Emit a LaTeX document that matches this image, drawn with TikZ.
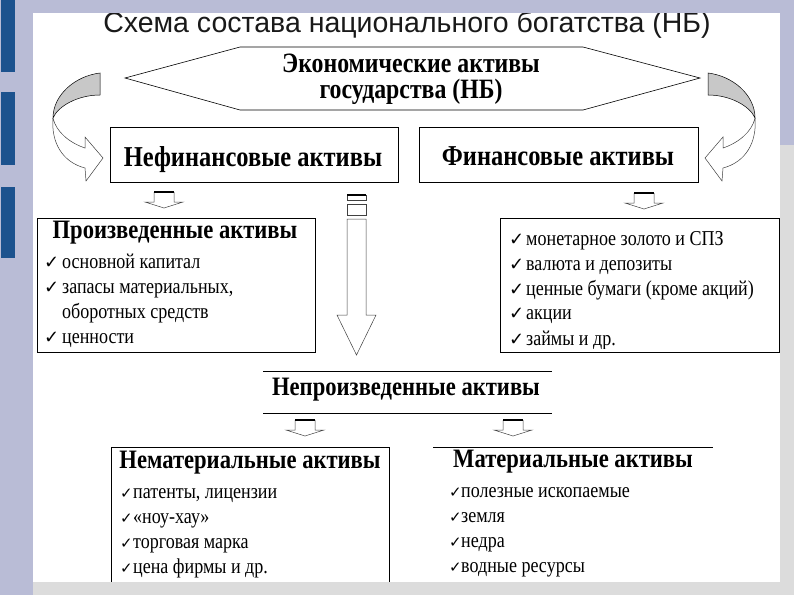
\documentclass[tikz,border=0pt]{standalone}
\usepackage{fontspec}
\setmainfont{Liberation Serif}[FakeStretch=0.85]
\newfontfamily\titlefont{Liberation Sans}
\newfontfamily\symfont{DejaVu Sans}
\usetikzlibrary{arrows.meta, positioning}
\definecolor{SlideBG}{RGB}{185,188,214}
\definecolor{SlideBar}{RGB}{28,82,142}
\definecolor{SlideGr}{RGB}{220,220,220}
\definecolor{ArrGr}{RGB}{200,200,200}
\newcommand{\tickmark}[2][18]{\makebox[#2][l]{\symfont\fontsize{#1}{#1}\selectfont ✓}}
\tikzset{
  ttl/.style={font=\titlefont\fontsize{28.5}{30}\selectfont, text=black!90, inner sep=0pt, anchor=base},
  hd/.style={font=\fontsize{#1}{23}\selectfont\bfseries, inner sep=0pt, anchor=base},
  hd/.default=28.8,
  itm/.style={font=\fontsize{21.2}{24}\selectfont, inner sep=0pt, anchor=base west},
  frame/.style={draw=black, line width=0.9pt},
  thinline/.style={draw=black!75, line width=0.5pt},
  blockdown/.pic={
    \draw[thinline] (-10,0) -- (-10,-10) -- (-19,-10) -- (0,-16) -- (19,-10) -- (10,-10) -- (10,0);
    \draw[line width=1.5pt] (-10,0) -- (10,0);
  },
  bendarrow/.pic={
    \filldraw[fill=ArrGr, draw=black, line width=0.5pt]
      (100,-73) .. controls (75,-76) and (53,-95) .. (53,-118)
      .. controls (58,-106) and (78,-95) .. (100,-95) -- cycle;
    \filldraw[fill=white, thinline]
      (53,-118) .. controls (56,-132) and (70,-143) .. (85,-148)
      -- (85,-137) -- (103,-158) -- (86,-181) -- (85,-168)
      .. controls (62,-162) and (51,-142) .. (53,-118) -- cycle;
  }
}
\begin{document}
\begin{tikzpicture}[x=1pt, y=1pt]
\useasboundingbox (0,0) rectangle (794,-595);
\fill[white] (0,0) rectangle (794,-595);

% Title
\node[ttl] (title) at (407,-32) {Схема состава национального богатства (НБ)};

% Top hexagon
\filldraw[fill=white, draw=black, line width=0.6pt]
  (125,-78) -- (240,-47) -- (583,-47) -- (700,-78) -- (583,-110) -- (240,-110) -- cycle;
\node[hd, font=\fontsize{28}{25.5}\selectfont\bfseries, align=center] (econ) at (411,-98)
  {Экономические активы\\государства (НБ)};

% Curved arrows on both sides
\pic at (0,0) {bendarrow};
\pic[xscale=-1] at (808,0) {bendarrow};

% Second row
\draw[frame] (110,-127) rectangle (398,-182);
\node[hd] (nonfin) at (253,-166) {Нефинансовые активы};
\draw[frame] (419,-127) rectangle (698,-182);
\node[hd] (fin) at (558,-165) {Финансовые активы};

\pic at (164,-192) {blockdown};
\pic at (644,-193) {blockdown};

% Striped arrow down to non-produced
\draw[thinline] (347,-200) -- (347,-195) -- (366,-195) -- (366,-200) -- cycle;
\draw[line width=1.2pt] (347,-195) -- (366,-195);
\draw[thinline] (347,-204) rectangle (366,-215);
\draw[thinline] (347,-219) -- (347,-315) -- (337,-315) -- (356.5,-355)
  -- (376,-315) -- (366,-315) -- (366,-219) -- cycle;

% Produced assets
\draw[frame] (37,-218) rectangle (315,-352);
\node[hd=26.6] (prod) at (175,-238) {Произведенные активы};
\node[itm] (prod1) at (44,-268) {\tickmark{18pt}основной капитал};
\node[itm] (prod2) at (44,-293) {\tickmark{18pt}запасы материальных,};
\node[itm] (prod3) at (62,-318) {оборотных средств};
\node[itm] (prod4) at (44,-343) {\tickmark{18pt}ценности};

% Financial assets list
\draw[frame] (500,-218) rectangle (779,-352);
\node[itm] (fin1) at (509,-245) {\tickmark{17pt}монетарное золото и СПЗ};
\node[itm] (fin2) at (509,-270) {\tickmark{17pt}валюта и депозиты};
\node[itm] (fin3) at (509,-295) {\tickmark{17pt}ценные бумаги (кроме акций)};
\node[itm] (fin4) at (509,-319) {\tickmark{17pt}акции};
\begin{scope}
  \clip (501,-219) rectangle (778,-348);
  \node[itm] (fin5) at (509,-345) {\tickmark{17pt}займы и др.};
\end{scope}

% Non-produced assets
\draw[frame] (263,-371) -- (552,-371);
\draw[frame] (263,-413) -- (552,-413);
\node[hd=26.6] (nonprod) at (406,-395) {Непроизведенные активы};

\pic at (305,-420) {blockdown};
\pic at (513,-420) {blockdown};

% Intangible assets
\draw[frame] (111,-447) rectangle (389,-590);
\node[hd=26.6] (intang) at (250,-468) {Нематериальные активы};
\node[itm] (intang1) at (120,-498) {\tickmark[15]{13pt}патенты, лицензии};
\node[itm] (intang2) at (120,-523) {\tickmark[15]{13pt}«ноу-хау»};
\node[itm] (intang3) at (120,-548) {\tickmark[15]{13pt}торговая марка};
\node[itm] (intang4) at (120,-573) {\tickmark[15]{13pt}цена фирмы и др.};

% Tangible assets
\draw[frame] (433,-447) -- (713,-447);
\node[hd=26.6] (tang) at (573,-467) {Материальные активы};
\node[itm] (tang1) at (449,-497) {\tickmark[15]{12pt}полезные ископаемые};
\node[itm] (tang2) at (449,-522) {\tickmark[15]{12pt}земля};
\node[itm] (tang3) at (449,-547) {\tickmark[15]{12pt}недра};
\node[itm] (tang4) at (449,-572) {\tickmark[15]{12pt}водные ресурсы};

% Slide frame
\fill[SlideBG] (0,0) rectangle (794,-13);
\fill[SlideBG] (0,0) rectangle (33,-595);
\fill[SlideBG] (780,0) rectangle (794,-145);
\fill[SlideGr] (780,-145) rectangle (794,-595);
\fill[SlideGr] (33,-582) rectangle (794,-595);
\fill[SlideBar] (1,0) rectangle (15,-72);
\fill[SlideBar] (1,-92) rectangle (15,-165);
\fill[SlideBar] (1,-187) rectangle (15,-258);
\end{tikzpicture}
\end{document}
